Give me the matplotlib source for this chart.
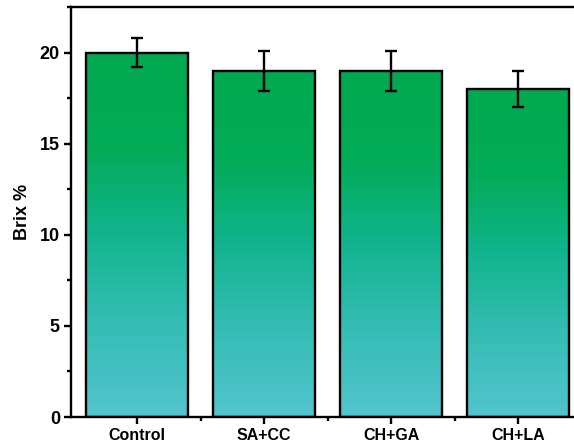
import numpy as np
import matplotlib
matplotlib.use("Agg")
import matplotlib.pyplot as plt
from matplotlib.colors import LinearSegmentedColormap
from matplotlib.ticker import MultipleLocator, FixedLocator

categories = ["Control", "SA+CC", "CH+GA", "CH+LA"]
values = [20.0, 19.0, 19.0, 18.0]
errors = [0.8, 1.1, 1.1, 1.0]

plt.rcParams['font.family'] = ['Liberation Sans', 'DejaVu Sans']

fig = plt.figure(figsize=(5.74, 4.47), dpi=100)
ax = fig.add_axes([71/574, 30/447, (574-71)/574, 410/447])

cmap = LinearSegmentedColormap.from_list(
    "g", ["#52c4cd", "#35bdb5", "#12b48e", "#02ab55", "#00a94f"])
x = np.arange(len(categories))
width = 0.8
bars = ax.bar(x, values, width=width, facecolor="none", edgecolor="black",
              linewidth=1.7, zorder=3)
grad = np.linspace(0, 1, 256).reshape(-1, 1)
for b in bars:
    x0, y0 = b.get_x(), b.get_y()
    w, h = b.get_width(), b.get_height()
    im = ax.imshow(grad, cmap=cmap, origin="lower", aspect="auto",
                   extent=[x0, x0 + w, y0, y0 + h], zorder=2,
                   interpolation="bilinear")
    im.set_clip_path(b)

ax.errorbar(x, values, yerr=errors, fmt="none", ecolor="black",
            elinewidth=1.7, capsize=4.5, capthick=1.7, zorder=4)

ax.set_xlim(-0.52, 3.44)
ax.set_ylim(0, 22.5)
ax.set_xticks(x)
ax.set_xticklabels(categories, fontsize=11.5, fontweight="bold")
ax.xaxis.set_minor_locator(FixedLocator([0.5, 1.5, 2.5]))
ax.yaxis.set_major_locator(MultipleLocator(5))
ax.yaxis.set_minor_locator(MultipleLocator(2.5))
for lab in ax.get_yticklabels():
    lab.set_fontweight("bold")
    lab.set_fontsize(13)
ax.tick_params(axis="both", which="major", direction="out", length=5,
               width=1.7, pad=3)
ax.tick_params(axis="both", which="minor", direction="out", length=3,
               width=1.7)
ax.set_ylabel("Brix %", fontsize=13, fontweight="bold", labelpad=6)

for s in ["left", "bottom", "top"]:
    ax.spines[s].set_linewidth(1.7)
ax.spines["right"].set_visible(False)

fig.savefig("out.png", dpi=100)
